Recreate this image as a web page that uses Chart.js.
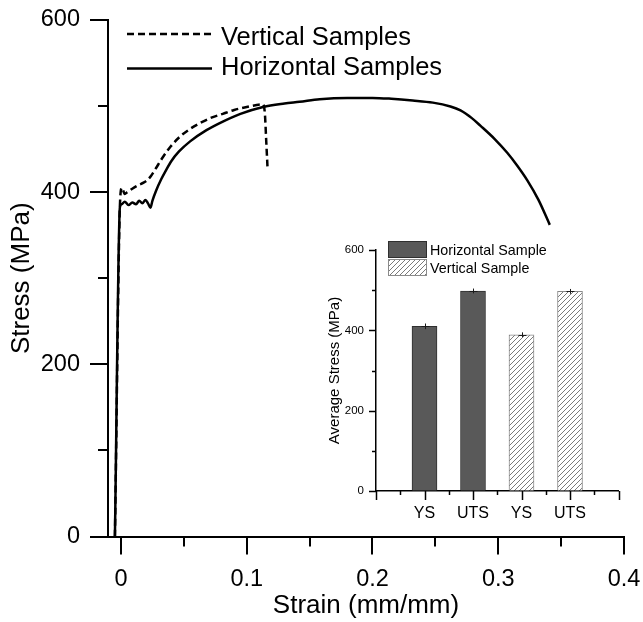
<!DOCTYPE html>
<html>
<head>
<meta charset="utf-8">
<title>Stress-strain curves</title>
<script src="https://cdn.jsdelivr.net/npm/chart.js@4.4.1/dist/chart.umd.min.js"></script>
<style>
  html, body { margin: 0; padding: 0; background: #fff; }
  #wrap { position: relative; width: 643px; height: 622px; }
  #mainChart { position: absolute; left: 0; top: 0; }
  #insetChart { position: absolute; left: 320px; top: 230px; }
</style>
</head>
<body>
<div id="wrap">
  <canvas id="mainChart" width="643" height="622"></canvas>
  <canvas id="insetChart" width="320" height="300"></canvas>
</div>
<script>
// ---------- main curves (strain mm/mm, stress MPa) ----------
const horizStrain = [-0.0048, -0.0008, 0.0005, 0.003, 0.006, 0.009, 0.012, 0.0145, 0.017, 0.0195, 0.0215, 0.0235,
  0.025, 0.028, 0.032, 0.036, 0.040, 0.046, 0.055, 0.068, 0.081, 0.095, 0.113, 0.130, 0.142, 0.158, 0.180, 0.200,
  0.215, 0.232, 0.248, 0.262, 0.270, 0.279, 0.286, 0.297, 0.307, 0.315, 0.323, 0.332, 0.341];
const horizStress = [0, 383, 386, 389, 385, 388, 386, 390, 387, 391, 387, 382,
  390, 402, 415, 426, 436, 447, 459, 472, 482, 491, 499, 503, 505, 508, 509.5, 509.5,
  508.5, 506.5, 504, 499.5, 495, 486, 477, 462, 446, 431, 414, 391, 362];

const vertStrain = [-0.0048, -0.0005, 0.0008, 0.003, 0.005, 0.009, 0.0135, 0.018, 0.021, 0.024, 0.0275,
  0.033, 0.0395, 0.0465, 0.0545, 0.0625, 0.071, 0.081, 0.090, 0.100, 0.107, 0.113, 0.1145, 0.1155, 0.1165];
const vertStress = [0, 395, 405, 398, 400, 404, 408, 411, 414, 419, 427,
  440, 453, 464, 473, 480, 486, 491, 495.5, 499, 501, 502, 490, 460, 430];

const xTickValues = [0, 0.05, 0.1, 0.15, 0.2, 0.25, 0.3, 0.35, 0.4];
const xTickLabels = ['0', '', '0.1', '', '0.2', '', '0.3', '', '0.4'];
const yTickValues = [0, 100, 200, 300, 400, 500, 600];
const yTickLabels = ['0', '', '200', '', '400', '', '600'];

// ---------- inset bars ----------
const insetCategories = ['YS', 'UTS', 'YS', 'UTS'];
const horizAvg = [410, 498];
const horizErr = [7, 6];
const vertAvg = [389, 497];
const vertErr = [6, 6];
const insetXTicks = [0, 0.5, 1, 1.5, 2, 2.5, 3, 3.5, 4, 4.5, 5];
const insetYTicks = [0, 100, 200, 300, 400, 500, 600];
const insetYLabels = ['0', '', '200', '', '400', '', '600'];

const FONT = "'Liberation Sans', Arial, sans-serif";
Chart.defaults.font.family = FONT;
Chart.defaults.color = '#000';

// scale edges are pinned by layout padding, so drop the label overhang padding
function noOverhang(s) {
  s.paddingLeft = 0; s.paddingRight = 0; s.paddingTop = 0; s.paddingBottom = 0;
}

// draws outward tick marks, long for major and short for minor
function tickMarks(id, cfg) {
  return {
    id: id,
    afterDraw(chart) {
      const ctx = chart.ctx;
      ctx.save();
      ctx.strokeStyle = '#000';
      cfg.forEach(a => {
        const s = chart.scales[a.axis];
        ctx.lineWidth = a.width;
        a.values.forEach((v, i) => {
          const len = a.isMajor(v, i) ? a.major : a.minor;
          const p = Math.round(s.getPixelForValue(v)) + (a.width % 2 ? 0.5 : 0);
          ctx.beginPath();
          if (a.axis === 'x') {
            ctx.moveTo(p, s.top);
            ctx.lineTo(p, s.top + len);
          } else {
            ctx.moveTo(s.right, p);
            ctx.lineTo(s.right - len, p);
          }
          ctx.stroke();
        });
      });
      ctx.restore();
    }
  };
}

const mainLegend = {
  id: 'mainLegend',
  afterDraw(chart) {
    const ctx = chart.ctx;
    ctx.save();
    ctx.strokeStyle = '#000';
    ctx.lineWidth = 2.5;
    ctx.setLineDash([7, 4]);
    ctx.beginPath(); ctx.moveTo(127, 34); ctx.lineTo(212, 34); ctx.stroke();
    ctx.setLineDash([]);
    ctx.beginPath(); ctx.moveTo(127, 68.5); ctx.lineTo(212, 68.5); ctx.stroke();
    ctx.fillStyle = '#000';
    ctx.font = '25.5px ' + FONT;
    ctx.textBaseline = 'alphabetic';
    ctx.fillText('Vertical Samples', 221, 44.5);
    ctx.fillText('Horizontal Samples', 221, 75);
    ctx.restore();
  }
};

new Chart(document.getElementById('mainChart'), {
  type: 'scatter',
  data: {
    datasets: [
      {
        label: 'Vertical Samples',
        data: vertStrain.map((x, i) => ({ x: x, y: vertStress[i] })),
        showLine: true, borderColor: '#000', borderWidth: 2.5, borderDash: [7, 4],
        pointRadius: 0, cubicInterpolationMode: 'monotone'
      },
      {
        label: 'Horizontal Samples',
        data: horizStrain.map((x, i) => ({ x: x, y: horizStress[i] })),
        showLine: true, borderColor: '#000', borderWidth: 2.5,
        pointRadius: 0, cubicInterpolationMode: 'monotone'
      }
    ]
  },
  options: {
    responsive: false,
    animation: false,
    layout: { padding: { top: 20, right: 19, left: 0, bottom: 0 } },
    plugins: { legend: { display: false }, tooltip: { enabled: false } },
    scales: {
      x: {
        type: 'linear', min: -0.0103, max: 0.4,
        afterBuildTicks: s => { s.ticks = xTickValues.map(v => ({ value: v })); },
        afterFit: s => { s.height = 85.5; noOverhang(s); },
        ticks: { autoSkip: false, maxRotation: 0, padding: 11, color: '#000',
          font: { size: 23.5 }, callback: (v, i) => xTickLabels[i] },
        grid: { display: true, drawOnChartArea: false, drawTicks: true, tickLength: 18, tickColor: 'rgba(0,0,0,0)' },
        border: { display: true, color: '#000', width: 2 },
        title: { display: true, text: 'Strain (mm/mm)', color: '#000', font: { size: 26 }, padding: { top: 0, bottom: 1 } }
      },
      y: {
        type: 'linear', min: 0, max: 600,
        afterBuildTicks: s => { s.ticks = yTickValues.map(v => ({ value: v })); },
        afterFit: s => { s.width = 108; noOverhang(s); },
        ticks: { autoSkip: false, padding: 10, color: '#000',
          font: { size: 23.5 }, callback: (v, i) => yTickLabels[i] },
        grid: { display: true, drawOnChartArea: false, drawTicks: true, tickLength: 18, tickColor: 'rgba(0,0,0,0)' },
        border: { display: true, color: '#000', width: 2 },
        title: { display: true, text: 'Stress (MPa)', color: '#000', font: { size: 26 }, padding: { top: 6, bottom: 0 } }
      }
    }
  },
  plugins: [
    tickMarks('mainTicks', [
      { axis: 'x', values: xTickValues, isMajor: (v, i) => xTickLabels[i] !== '', major: 18, minor: 10, width: 2 },
      { axis: 'y', values: yTickValues, isMajor: (v, i) => yTickLabels[i] !== '', major: 18, minor: 10, width: 2 }
    ]),
    mainLegend
  ]
});

// ---------- inset ----------
function hatchPattern() {
  const c = document.createElement('canvas');
  c.width = 5; c.height = 5;
  const g = c.getContext('2d');
  g.fillStyle = '#fff';
  g.fillRect(0, 0, 5, 5);
  g.strokeStyle = '#7a7a7a';
  g.lineWidth = 1;
  g.beginPath();
  g.moveTo(0, 5); g.lineTo(5, 0);
  g.moveTo(-1, 1); g.lineTo(1, -1);
  g.moveTo(4, 6); g.lineTo(6, 4);
  g.stroke();
  return g.createPattern(c, 'repeat');
}
const hatch = hatchPattern();
const DARK = '#595959';

const insetExtras = {
  id: 'insetExtras',
  afterDatasetsDraw(chart) {
    const ctx = chart.ctx;
    const ys = chart.scales.y;
    const errs = [horizErr, vertErr];
    ctx.save();
    ctx.strokeStyle = '#1a1a1a';
    ctx.lineWidth = 1;
    chart.data.datasets.forEach((ds, d) => {
      chart.getDatasetMeta(d).data.forEach((bar, i) => {
        const v = ds.data[i].y;
        const e = errs[d][i];
        const x = Math.round(bar.x) + 0.5;
        ctx.beginPath();
        ctx.moveTo(x, ys.getPixelForValue(v + e));
        ctx.lineTo(x, ys.getPixelForValue(v - e));
        ctx.moveTo(x - 4, Math.round(bar.y) + 0.5);
        ctx.lineTo(x + 4, Math.round(bar.y) + 0.5);
        ctx.stroke();
      });
    });
    ctx.restore();
  },
  afterDraw(chart) {
    const ctx = chart.ctx;
    ctx.save();
    ctx.lineWidth = 1;
    ctx.fillStyle = DARK;
    ctx.fillRect(68.5, 11.5, 38, 16);
    ctx.strokeStyle = '#2f2f2f';
    ctx.strokeRect(68.5, 11.5, 38, 16);
    ctx.fillStyle = hatch;
    ctx.fillRect(68.5, 29.5, 38, 16);
    ctx.strokeStyle = '#8a8a8a';
    ctx.strokeRect(68.5, 29.5, 38, 16);
    ctx.fillStyle = '#000';
    ctx.font = '14.3px ' + FONT;
    ctx.fillText('Horizontal Sample', 110, 25);
    ctx.fillText('Vertical Sample', 110, 42.5);
    ctx.restore();
  }
};

new Chart(document.getElementById('insetChart'), {
  type: 'bar',
  data: {
    datasets: [
      {
        label: 'Horizontal Sample',
        data: horizAvg.map((y, i) => ({ x: i + 1, y: y })),
        backgroundColor: DARK, borderColor: '#2f2f2f', borderWidth: 1,
        barThickness: 25, grouped: false
      },
      {
        label: 'Vertical Sample',
        data: vertAvg.map((y, i) => ({ x: i + 3, y: y })),
        backgroundColor: hatch, borderColor: '#8a8a8a', borderWidth: 1,
        barThickness: 25, grouped: false
      }
    ]
  },
  options: {
    responsive: false,
    animation: false,
    layout: { padding: { top: 20, right: 21.5, left: 0, bottom: 0 } },
    plugins: { legend: { display: false }, tooltip: { enabled: false } },
    scales: {
      x: {
        type: 'linear', min: 0, max: 5, offset: false,
        afterBuildTicks: s => { s.ticks = insetXTicks.map(v => ({ value: v })); },
        afterFit: s => { s.height = 39; noOverhang(s); },
        ticks: { autoSkip: false, maxRotation: 0, padding: 4, color: '#000', font: { size: 16 },
          callback: v => Number.isInteger(v) && v >= 1 && v <= 4 ? insetCategories[v - 1] : '' },
        grid: { display: true, drawOnChartArea: false, drawTicks: true, tickLength: 9, tickColor: 'rgba(0,0,0,0)' },
        border: { display: true, color: '#000', width: 1.5 }
      },
      y: {
        type: 'linear', min: 0, max: 600,
        afterBuildTicks: s => { s.ticks = insetYTicks.map(v => ({ value: v })); },
        afterFit: s => { s.width = 56; noOverhang(s); },
        ticks: { autoSkip: false, padding: 5, color: '#000', font: { size: 11.5 },
          callback: (v, i) => insetYLabels[i] },
        grid: { display: true, drawOnChartArea: false, drawTicks: true, tickLength: 7, tickColor: 'rgba(0,0,0,0)' },
        border: { display: true, color: '#000', width: 1.5 },
        title: { display: true, text: 'Average Stress (MPa)', color: '#000', font: { size: 15 }, padding: { top: 6, bottom: 0 } }
      }
    }
  },
  plugins: [
    tickMarks('insetTicks', [
      { axis: 'x', values: insetXTicks, isMajor: v => Number.isInteger(v), major: 9, minor: 4, width: 1.5 },
      { axis: 'y', values: insetYTicks, isMajor: (v, i) => insetYLabels[i] !== '', major: 7, minor: 4, width: 1.5 }
    ]),
    insetExtras
  ]
});
</script>
</body>
</html>
